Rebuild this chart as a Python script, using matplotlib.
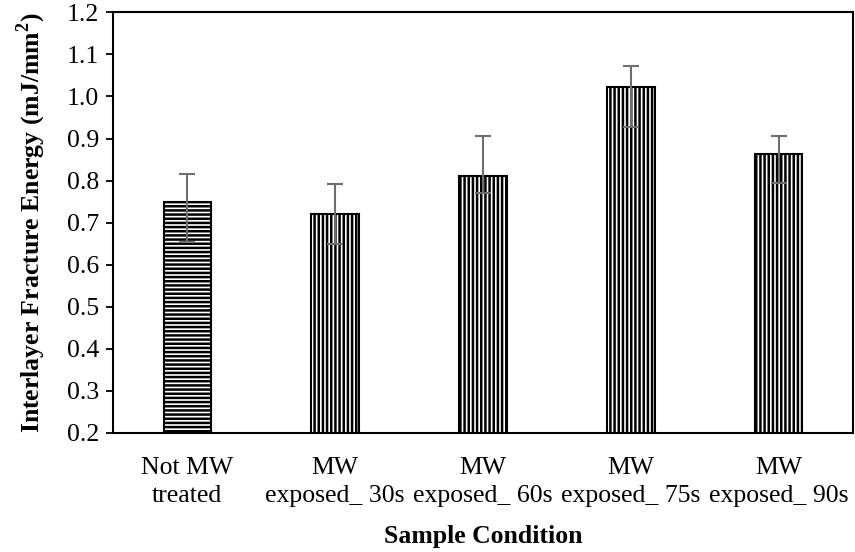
import numpy as np
import matplotlib
matplotlib.use("Agg")
import matplotlib.pyplot as plt

plt.rcParams['font.family'] = ['Liberation Serif', 'DejaVu Serif']
plt.rcParams['hatch.linewidth'] = 1.8
plt.rcParams['mathtext.fontset'] = 'custom'
plt.rcParams['mathtext.bf'] = 'Liberation Serif:bold'
plt.rcParams['mathtext.rm'] = 'Liberation Serif'

# fracture energy per sample condition (mJ/mm^2)
conditions = ["Not MW\ntreated", "MW\nexposed_ 30s", "MW\nexposed_ 60s",
              "MW\nexposed_ 75s", "MW\nexposed_ 90s"]
energy = [0.750, 0.721, 0.810, 1.022, 0.862]
err_plus = [0.066, 0.071, 0.097, 0.051, 0.043]
err_minus = [0.096, 0.072, 0.040, 0.094, 0.067]
hatches = ["----", "||||", "||||", "||||", "||||"]

fs = 18.5

fig = plt.figure(figsize=(8.55, 5.52), dpi=100)
ax = fig.add_axes([0.1325, 0.2156, 0.8648, 0.7621])

x = np.arange(len(conditions))
bars = ax.bar(x, energy, width=0.32, bottom=0, color="white",
              edgecolor="black", linewidth=1.5, zorder=2)
for b, h in zip(bars, hatches):
    b.set_hatch(h)

ax.errorbar(x, energy, yerr=[err_minus, err_plus], fmt="none",
            ecolor="#6e6e6e", elinewidth=1.5, capsize=6, capthick=1.5, zorder=3)

ax.set_xlim(-0.5, len(conditions) - 0.5)
ax.set_ylim(0.2, 1.2)
ax.set_yticks(np.arange(0.2, 1.21, 0.1))
ax.set_yticklabels([f"{v:.1f}" for v in np.arange(0.2, 1.21, 0.1)])
ax.set_xticks(x)
ax.set_xticklabels(conditions, fontsize=fs, linespacing=1.4)
ax.tick_params(axis="x", length=0, pad=17)
ax.tick_params(axis="y", direction="out", length=5, width=1.3, labelsize=fs, pad=5)

for s in ax.spines.values():
    s.set_linewidth(1.5)
    s.set_color("black")

ax.set_xlabel("Sample Condition", fontsize=fs, fontweight="bold", labelpad=13)
ax.set_ylabel(r"Interlayer Fracture Energy (mJ/mm$^\mathbf{2}$)", fontsize=fs,
              fontweight="bold", labelpad=14)

fig.savefig("out.png", dpi=100)
